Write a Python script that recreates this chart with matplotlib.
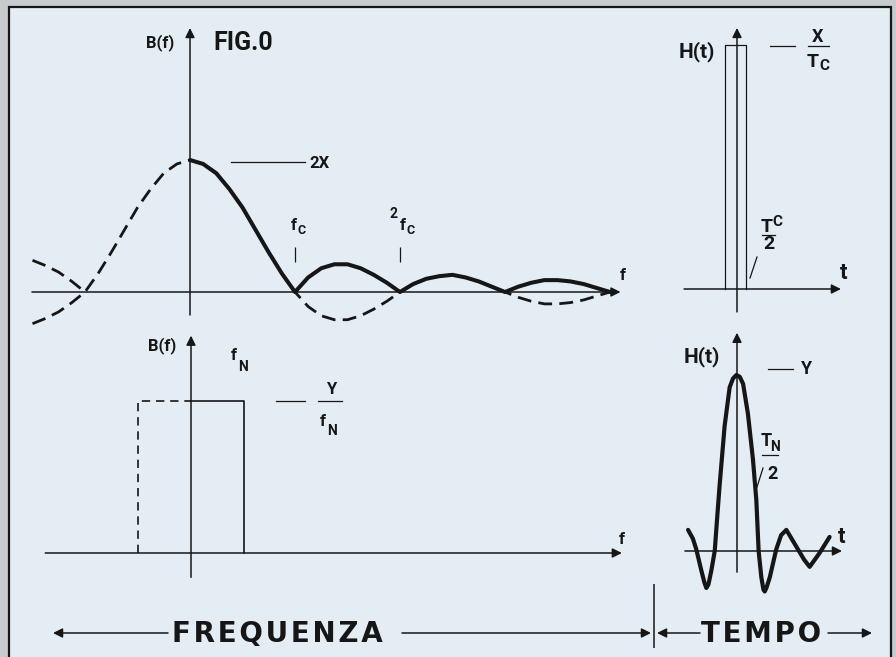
import matplotlib.pyplot as plt
from matplotlib.patches import Rectangle

W, H = 896, 657
INK = '#161616'
PAPER = '#e4edf3'
MARGIN = '#c6cbce'
NARROW = ['Roboto', 'DejaVu Sans']

# --- values ---
# FIG.0 top left: B(f) in units of 2X, f in units of fc
f_sinc = [-1.5, -1.375, -1.25, -1.125, -1.0, -0.875, -0.75, -0.625, -0.5, -0.375,
          -0.25, -0.125, 0.0, 0.125, 0.25, 0.375, 0.5, 0.625, 0.75, 0.875,
          1.0, 1.125, 1.25, 1.375, 1.5, 1.625, 1.75, 1.875, 2.0, 2.125,
          2.25, 2.375, 2.5, 2.625, 2.75, 2.875, 3.0, 3.125, 3.25, 3.375,
          3.5, 3.625, 3.75, 3.875, 4.0]
b_sinc = [-0.24, -0.20, -0.15, -0.08, 0.0, 0.14, 0.30, 0.47, 0.64, 0.78,
          0.90, 0.97, 1.0, 0.97, 0.90, 0.78, 0.64, 0.47, 0.30, 0.14,
          0.0, -0.11, -0.18, -0.21, -0.21, -0.18, -0.13, -0.07, 0.0, 0.06,
          0.10, 0.12, 0.13, 0.11, 0.08, 0.04, 0.0, -0.04, -0.07, -0.09,
          -0.09, -0.08, -0.06, -0.03, 0.0]
f_marks = [1.0, 2.0]          # fc, 2fc

# bottom left: ideal low-pass spectrum, f in units of fN, B in units of Y/fN
f_nyq = 1.0
b_nyq = 1.0

# top right: rectangular impulse, t in units of Tc, H in units of X/Tc
t_pulse = [-0.55, -0.55, 0.45, 0.45]
h_pulse = [0.0, 1.0, 1.0, 0.0]

# bottom right: impulse response, t in units of TN/2, H in units of Y
t_resp = [-2.33, -2.1, -1.94, -1.70, -1.55, -1.46, -1.36, -1.22, -1.06, -0.95,
          -0.83, -0.59, -0.35, -0.19, -0.03, 0.13, 0.29, 0.52, 0.76, 0.92,
          1.03, 1.16, 1.26, 1.32, 1.40, 1.56, 1.87, 2.10, 2.35, 2.60,
          2.90, 3.20, 3.46, 3.70, 3.94, 4.41]
h_resp = [0.12, 0.07, 0.01, -0.11, -0.18, -0.21, -0.19, -0.11, 0.0, 0.18,
          0.37, 0.71, 0.93, 0.98, 1.0, 0.99, 0.95, 0.78, 0.52, 0.29,
          0.0, -0.15, -0.22, -0.23, -0.21, -0.15, 0.01, 0.09, 0.12, 0.07,
          0.01, -0.05, -0.09, -0.05, -0.01, 0.08]


def panel(box, origin, scale):
    '''box = (left, top, right, bottom) in pixels, origin = pixel of (0, 0),
    scale = pixels per data unit along x and y'''
    l, t, r, b = box
    ax = fig.add_axes([l / W, 1 - b / H, (r - l) / W, (b - t) / H])
    ox, oy = origin
    sx, sy = scale
    ax.set_xlim((l - ox) / sx, (r - ox) / sx)
    ax.set_ylim((oy - b) / sy, (oy - t) / sy)
    ax.axis('off')
    return ax


def arrow(ax, start, end, lw=1.1, ms=14):
    ax.annotate('', xy=end, xytext=start,
                arrowprops=dict(arrowstyle='-|>', lw=lw, color=INK,
                                mutation_scale=ms, shrinkA=0, shrinkB=0))


def label(x, y, s, size=11, **kw):
    bg.text(x, y, s, fontsize=size, family=NARROW, fontweight='bold',
            color=INK, ha='center', va='center', **kw)


fig = plt.figure(figsize=(W / 100, H / 100), dpi=100, facecolor=MARGIN)

# page background, frame and the bottom captions (pixel coordinates)
bg = fig.add_axes([0, 0, 1, 1])
bg.set_xlim(0, W)
bg.set_ylim(H, 0)
bg.axis('off')
bg.add_patch(Rectangle((9, 7), 882, 670, facecolor=PAPER, edgecolor=INK, lw=1.6))

# ---- top left: FIG.0 ----
ax1 = panel((20, 20, 640, 330), (190, 292), (105, 132))
arrow(ax1, (-1.505, 0), (4.1, 0))
arrow(ax1, (0, -0.174), (0, 2.0))
ax1.plot(f_sinc, b_sinc, color=INK, lw=2.0, ls=(0, (5, 2.6)), zorder=2)
left = [(f, abs(b)) for f, b in zip(f_sinc, b_sinc) if f <= -1.0]
ax1.plot([p[0] for p in left], [p[1] for p in left], color=INK, lw=2.0,
         ls=(0, (5, 2.6)), zorder=2)
pos = [(f, abs(b)) for f, b in zip(f_sinc, b_sinc) if f >= 0]
ax1.plot([p[0] for p in pos], [p[1] for p in pos], color=INK, lw=2.9,
         solid_capstyle='round', solid_joinstyle='round', zorder=3)
ax1.vlines(f_marks, 0.227, 0.34, color=INK, lw=0.9)

label(160, 43, 'B(f)', size=12)
label(243, 43, 'FIG.0', size=18)
bg.plot([231, 305], [162, 162], color=INK, lw=0.9)
label(320, 163, '2X', size=12)
label(294, 225, 'f', size=12)
label(302, 230, 'C', size=9)
label(393, 214, '2', size=10)
label(403, 225, 'f', size=12)
label(411, 230, 'C', size=9)
label(623, 276, 'f', size=12)

# ---- bottom left: ideal spectrum ----
ax2 = panel((20, 325, 640, 590), (191, 553), (53, 152))
arrow(ax2, (-2.75, 0), (8.13, 0))
arrow(ax2, (0, -0.16), (0, 1.43))
ax2.plot([0, f_nyq, f_nyq], [b_nyq, b_nyq, 0], color=INK, lw=1.2)
ax2.plot([-f_nyq, -f_nyq, 0], [0, b_nyq, b_nyq], color=INK, lw=1.2,
         ls=(0, (5, 3.5)))

label(162, 346, 'B(f)', size=12)
label(234, 356, 'f', size=12)
label(243, 367, 'N', size=10)
bg.plot([276, 305], [401, 401], color=INK, lw=0.9)
bg.plot([318, 342], [401, 401], color=INK, lw=0.9)
label(331, 390, 'Y', size=12)
label(323, 422, 'f', size=12)
label(332, 431, 'N', size=10)
label(622, 540, 'f', size=12)

# ---- top right: rectangular impulse ----
ax3 = panel((660, 20, 890, 320), (737, 289), (21, 244))
arrow(ax3, (-2.52, 0), (4.95, 0))
arrow(ax3, (0, -0.094), (0, 1.07))
ax3.plot(t_pulse, h_pulse, color=INK, lw=0.9)

label(697, 52, 'H(t)', size=15)
bg.plot([770, 795], [46, 46], color=INK, lw=0.9)
label(818, 37, 'X', size=13)
bg.plot([808, 829], [46, 46], color=INK, lw=0.9)
label(813, 62, 'T', size=14)
label(824, 66, 'C', size=11)
label(767, 227, 'T', size=14)
label(777, 222, 'C', size=11)
bg.plot([762, 775], [235, 235], color=INK, lw=0.9)
label(769, 244, '2', size=14)
bg.plot([757, 750], [257, 278], color=INK, lw=0.9)
label(844, 273, 't', size=16)

# ---- bottom right: impulse response ----
ax4 = panel((660, 325, 890, 600), (737, 551), (21, 176))
arrow(ax4, (-2.48, 0), (5.0, 0))
arrow(ax4, (0, -0.12), (0, 1.24))
ax4.plot(t_resp, h_resp, color=INK, lw=3.0,
         solid_capstyle='round', solid_joinstyle='round')

label(702, 357, 'H(t)', size=15)
bg.plot([768, 793], [369, 369], color=INK, lw=0.9)
label(807, 369, 'Y', size=13)
label(766, 441, 'T', size=13)
label(775, 447, 'N', size=10)
bg.plot([762, 778], [455, 455], color=INK, lw=0.9)
label(772, 474, '2', size=13)
bg.plot([763, 757], [468, 487], color=INK, lw=0.9)
label(842, 537, 't', size=16)

# ---- bottom captions ----
bg.vlines(654, 584, 648, color=INK, lw=1.1)
arrow(bg, (168, 633), (53, 633))
arrow(bg, (402, 633), (651, 633))
arrow(bg, (700, 633), (657, 633))
arrow(bg, (828, 633), (872, 633))
bg.text(277, 634, '\u200a'.join('FREQUENZA'), fontsize=20, fontweight='bold',
        color=INK, ha='center', va='center')
bg.text(761, 634, '\u200a'.join('TEMPO'), fontsize=20, fontweight='bold',
        color=INK, ha='center', va='center')

fig.savefig('out.png', dpi=100, facecolor=MARGIN)
